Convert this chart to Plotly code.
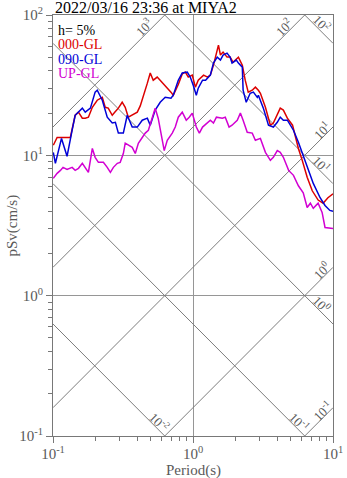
import numpy as np
import plotly.graph_objects as go

# ---- response spectra (pSv, cm/s) versus period (s) ----
period_000 = [0.1005, 0.107, 0.133, 0.137, 0.144, 0.152, 0.162, 0.170, 0.179, 0.191, 0.207, 0.225,
              0.236, 0.248, 0.265, 0.279, 0.293, 0.312, 0.328, 0.345, 0.368, 0.400, 0.420, 0.441,
              0.472, 0.495, 0.520, 0.555, 0.583, 0.603, 0.633, 0.696, 0.723, 0.785, 0.838, 0.881,
              0.925, 0.988, 1.04, 1.09, 1.19, 1.27, 1.33, 1.40, 1.52, 1.57, 1.64, 1.75, 1.84, 1.93,
              2.11, 2.25, 2.36, 2.48, 2.65, 2.79, 2.93, 3.03, 3.29, 3.57, 3.75, 4.00, 4.20, 4.42,
              4.72, 5.14, 5.40, 5.66, 6.03, 6.54, 7.11, 7.83, 8.50, 9.20, 10.0]
psv_000 = [11.8, 13.4, 13.4, 15.5, 19.3, 20.3, 18.4, 18.4, 18.7, 22.0, 24.7, 25.9,
           22.0, 21.7, 19.3, 20.5, 21.7, 23.9, 22.0, 18.7, 19.3, 20.3, 22.5, 26.8,
           32.7, 38.6, 34.3, 36.1, 34.3, 33.0, 31.6, 28.2, 26.8, 32.0, 38.0, 39.2,
           36.1, 37.3, 30.6, 34.3, 37.3, 36.1, 37.3, 43.9, 61.0, 51.8, 54.4, 50.1, 50.1, 46.1,
           50.1, 43.9, 34.3, 28.2, 29.1, 30.6, 29.1, 27.7, 22.0, 16.4, 17.0, 19.3, 21.7, 21.0,
           18.4, 16.4, 13.4, 11.2, 9.21, 6.97, 5.59, 4.80, 4.56, 4.99, 5.32]

period_090 = [0.1005, 0.104, 0.115, 0.126, 0.137, 0.144, 0.162, 0.170, 0.185, 0.200, 0.207, 0.225,
              0.244, 0.265, 0.279, 0.293, 0.318, 0.339, 0.368, 0.400, 0.434, 0.472, 0.495, 0.537,
              0.583, 0.633, 0.696, 0.723, 0.785, 0.838, 0.910, 0.956, 1.004, 1.056, 1.09, 1.17,
              1.23, 1.33, 1.40, 1.49, 1.57, 1.64, 1.75, 1.84, 1.90, 2.04, 2.11, 2.25, 2.28, 2.40,
              2.56, 2.70, 2.88, 2.93, 3.18, 3.46, 3.75, 4.00, 4.20, 4.42, 4.72, 4.98, 5.22, 5.66,
              6.13, 6.64, 7.23, 8.09, 8.77, 9.50, 10.0]
psv_090 = [10.5, 8.77, 13.2, 9.84, 15.1, 19.3, 21.7, 20.3, 21.7, 28.2, 29.1, 24.7,
           18.7, 17.0, 17.2, 14.4, 14.4, 19.3, 15.9, 15.9, 17.8, 18.4, 16.4, 21.0,
           23.9, 25.9, 25.5, 26.8, 34.3, 38.6, 39.2, 36.1, 31.6, 26.8, 30.1, 34.3,
           34.3, 37.3, 45.4, 50.1, 47.7, 51.8, 53.5, 50.1, 45.4, 47.7, 45.4, 42.5, 29.1, 23.9,
           27.7, 28.2, 25.9, 26.8, 21.7, 16.4, 15.9, 17.2, 18.7, 17.8, 17.8, 16.4, 15.1, 12.4,
           10.0, 8.08, 6.31, 4.99, 4.39, 4.05, 3.99]

period_up = [0.1005, 0.107, 0.113, 0.118, 0.126, 0.137, 0.144, 0.152, 0.162, 0.170, 0.179, 0.191,
             0.200, 0.211, 0.229, 0.244, 0.257, 0.270, 0.288, 0.302, 0.318, 0.328, 0.345, 0.368,
             0.387, 0.407, 0.434, 0.456, 0.480, 0.512, 0.537, 0.564, 0.623, 0.655, 0.711, 0.747,
             0.785, 0.838, 0.895, 0.940, 0.988, 1.056, 1.11, 1.17, 1.27, 1.33, 1.40, 1.47, 1.62,
             1.70, 1.81, 1.90, 2.07, 2.18, 2.28, 2.44, 2.65, 2.79, 3.03, 3.29, 3.57, 3.75, 4.00,
             4.20, 4.42, 4.82, 5.22, 5.66, 6.13, 6.54, 6.89, 7.23, 7.83, 8.36, 8.77, 10.0]
psv_up = [6.85, 7.44, 7.81, 8.21, 7.94, 8.21, 7.81, 8.08, 8.77, 8.08, 7.56, 11.2,
          9.68, 8.91, 8.91, 8.21, 7.56, 8.21, 8.77, 8.91, 10.3, 12.2, 11.8, 11.4,
          10.3, 12.2, 13.4, 14.4, 15.1, 18.7, 21.7, 18.4, 10.8, 12.8, 14.4, 15.9,
          18.7, 20.3, 17.8, 18.7, 20.0, 15.9, 14.4, 15.9, 17.0, 17.8, 17.0, 18.7, 18.4,
          18.7, 15.9, 16.4, 17.8, 20.0, 17.8, 14.6, 14.4, 12.8, 13.2, 10.5, 9.21, 9.68, 10.8,
          10.5, 9.68, 7.81, 7.20, 6.07, 5.41, 4.25, 4.56, 4.19, 4.56, 3.92, 3.06, 3.01]

series_names = ["000-GL", "090-GL", "UP-GL"]
series_colors = ["rgb(220,0,0)", "rgb(0,0,215)", "rgb(210,0,210)"]

# tripartite guide levels
accel_levels = [1e-1, 1e0, 1e1, 1e2, 1e3]   # Sa, cm/s^2 (rising lines)
disp_levels = [1e-2, 1e-1, 1e0, 1e1, 1e2]   # Sd, cm (falling lines)

# decade ticks
period_ticks = [0.1, 1, 10]
psv_ticks = [0.1, 1, 10, 100]

damping_text = "h= 5%"
title_text = "2022/03/16 23:36 at MIYA2"
x_title = "Period(s)"
y_title = "pSv(cm/s)"

T_RANGE = (0.1, 10.0)
SV_RANGE = (0.1, 100.0)
lx0, lx1 = np.log10(T_RANGE)
ly0, ly1 = np.log10(SV_RANGE)

GUIDE = "rgb(125,125,125)"
AXIS = "rgb(120,120,120)"
TEXT_GRAY = "rgb(90,90,90)"
SERIF = "Liberation Serif, Times New Roman, serif"

# plot-area geometry in pixels
W, H = 347, 478
ML, MR, MT, MB = 53, 14, 15, 42
PW, PH = W - ML - MR, H - MT - MB

fig = go.Figure()

t_grid = np.logspace(lx0, lx1, 401)
two_pi = 2 * np.pi
for sa in accel_levels:
    fig.add_trace(go.Scatter(x=t_grid, y=sa * t_grid / two_pi, mode="lines",
                             line=dict(color=GUIDE, width=1), hoverinfo="skip", showlegend=False))
for sd in disp_levels:
    fig.add_trace(go.Scatter(x=t_grid, y=two_pi * sd / t_grid, mode="lines",
                             line=dict(color=GUIDE, width=1), hoverinfo="skip", showlegend=False))

for per, sv, name, col in zip([period_000, period_090, period_up],
                              [psv_000, psv_090, psv_up], series_names, series_colors):
    fig.add_trace(go.Scatter(x=per, y=sv, mode="lines", name=name,
                             line=dict(color=col, width=1.5), showlegend=False))

# labels for the guide lines, placed where each line leaves the frame
px = 1 / 140.0  # one pixel in decades
lab_font = dict(family=SERIF, size=13, color=TEXT_GRAY)
annotations = []


def power_label(v):
    return "10<sup>%d</sup>" % int(round(np.log10(v)))


for sa in accel_levels:
    c = np.log10(sa) - np.log10(two_pi)      # log Sv = log T + c
    if lx1 + c <= ly1:                         # exits through the right edge
        x = lx1 - 11 * px
        y = x + c + 8 * px
    else:                                      # exits through the top edge
        y = ly1 - 12 * px
        x = y - c - 9 * px
    annotations.append(dict(x=x, y=y, xref="x", yref="y", text=power_label(sa),
                            textangle=-45, showarrow=False, font=lab_font))

for sd in disp_levels:
    c = np.log10(sd) + np.log10(two_pi)      # log Sv = c - log T
    if c - lx1 >= ly0:                         # exits through the right edge
        x = lx1 - 11 * px
        y = c - x + 9 * px
    else:                                      # exits through the bottom edge
        y = ly0 + 14 * px
        x = c - y + 9 * px
    annotations.append(dict(x=x, y=y, xref="x", yref="y", text=power_label(sd),
                            textangle=45, showarrow=False, font=lab_font))

# damping / component key in the upper-left corner
key_texts = [damping_text] + series_names
key_colors = ["black"] + series_colors
for i, (txt, col) in enumerate(zip(key_texts, key_colors)):
    annotations.append(dict(x=4 / PW, y=1 - (15 + 14.6 * i) / PH, xref="paper", yref="paper",
                            xanchor="left", yanchor="middle", text=txt, showarrow=False,
                            borderpad=0, font=dict(family=SERIF, size=14, color=col)))

annotations.append(dict(x=0.0, y=1 + MT / PH, xref="paper", yref="paper", xanchor="left",
                        yanchor="top", yshift=3, text=title_text, showarrow=False,
                        font=dict(family=SERIF, size=16, color="black")))

# axis titles
annotations.append(dict(x=0.5, y=-34 / PH, xref="paper", yref="paper", xanchor="center",
                        yanchor="middle", text=x_title, showarrow=False, borderpad=0,
                        font=dict(family=SERIF, size=15, color=TEXT_GRAY)))
annotations.append(dict(x=-41 / PW, y=0.5, xref="paper", yref="paper", xanchor="center",
                        yanchor="middle", text=y_title, textangle=-90, showarrow=False,
                        font=dict(family=SERIF, size=15, color=TEXT_GRAY)))


def minor_values(lo, hi):
    vals = []
    for d in range(int(np.floor(lo)), int(np.ceil(hi))):
        for k in range(2, 10):
            vals.append(k * 10.0 ** d)
    return vals


axis_common = dict(type="log", showline=True, mirror=True, linecolor=AXIS, linewidth=1.2,
                   ticks="outside", ticklen=6, tickcolor=AXIS, automargin=False,
                   showgrid=True, gridcolor="rgb(150,150,150)", gridwidth=1, zeroline=False,
                   tickfont=dict(family=SERIF, size=15, color=TEXT_GRAY))

fig.update_layout(
    width=W, height=H,
    margin=dict(l=ML, r=MR, t=MT, b=MB, autoexpand=False),
    paper_bgcolor="white", plot_bgcolor="white",
    showlegend=False,
    annotations=annotations,
    xaxis=dict(range=[lx0, lx1], tickvals=period_ticks,
               ticktext=[power_label(v) for v in period_ticks], ticklabelstandoff=-2,
               minor=dict(tickvals=minor_values(lx0, lx1), ticks="outside", ticklen=4,
                          tickcolor=AXIS, showgrid=False),
               **axis_common),
    yaxis=dict(range=[ly0, ly1], tickvals=psv_ticks,
               ticktext=[power_label(v) for v in psv_ticks],
               minor=dict(tickvals=minor_values(ly0, ly1), ticks="outside", ticklen=4,
                          tickcolor=AXIS, showgrid=False),
               **axis_common),
)

fig.write_html("out.html")
